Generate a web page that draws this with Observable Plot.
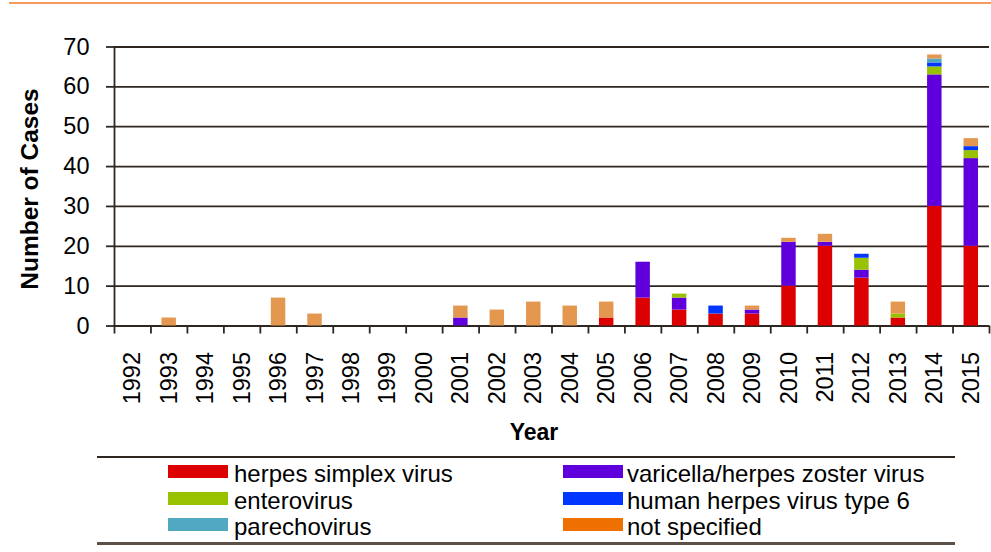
<!DOCTYPE html>
<html>
<head>
<meta charset="utf-8">
<script src="https://cdn.jsdelivr.net/npm/d3@7"></script>
<script src="https://cdn.jsdelivr.net/npm/@observablehq/plot@0.6"></script>
<style>
  html, body { margin: 0; padding: 0; background: #fff; }
  body { width: 991px; height: 552px; position: relative; overflow: hidden;
         font-family: "Liberation Sans", Arial, Helvetica, sans-serif; color: #000; }
  #topline { position: absolute; left: 9px; right: 0; top: 2px; height: 2px; background: #F49A5E; }
  #chart { position: absolute; left: 0; top: 0; }
  #ylabel { position: absolute; left: 30px; top: 189px; font-weight: bold; font-size: 24.5px;
            transform: translate(-50%, -50%) rotate(-90deg); white-space: nowrap; }
  #xlabel { position: absolute; left: 534px; top: 432px; font-weight: bold; font-size: 23px;
            transform: translate(-50%, -50%); white-space: nowrap; }
  #legend { position: absolute; left: 97px; width: 858px; top: 456px; height: 84px;
            border-top: 2px solid #2e2620; border-bottom: 3px solid #5b5149; }
  .sw { position: absolute; width: 60px; height: 13px; }
  .lt { position: absolute; font-size: 24px; line-height: 24px; white-space: nowrap; }
</style>
</head>
<body>
<div id="topline"></div>
<div id="chart"></div>
<div id="ylabel">Number of Cases</div>
<div id="xlabel">Year</div>
<div id="legend"></div>
<script>
// ---- data ----
const years = [1992,1993,1994,1995,1996,1997,1998,1999,2000,2001,2002,2003,2004,2005,2006,2007,2008,2009,2010,2011,2012,2013,2014,2015];
const series = ["herpes simplex virus","varicella/herpes zoster virus","enterovirus","human herpes virus type 6","parechovirus","not specified"];
const hsv      = [0,0,0,0,0,0,0,0,0,0,0,0,0,2,7,4,3,3,10,20,12,2,30,20];
const vzv      = [0,0,0,0,0,0,0,0,0,2,0,0,0,0,9,3,0,1,11,1,2,0,33,22];
const entero   = [0,0,0,0,0,0,0,0,0,0,0,0,0,0,0,1,0,0,0,0,3,1,2,2];
const hhv6     = [0,0,0,0,0,0,0,0,0,0,0,0,0,0,0,0,2,0,0,0,1,0,1,1];
const parecho  = [0,0,0,0,0,0,0,0,0,0,0,0,0,0,0,0,0,0,0,0,0,0,1,0];
const notSpec  = [0,2,0,0,7,3,0,0,0,3,4,6,5,4,0,0,0,1,1,2,0,3,1,2];
const yTicks = [0,10,20,30,40,50,60,70];
const barColors    = ["#DD0000","#5F00DC","#98C200","#0036FF","#50A9C0","#E4974F"];
const legendColors = ["#DD0000","#5F00DC","#98C200","#0036FF","#50A9C0","#EE7000"];

// ---- build table ----
const values = [hsv, vzv, entero, hhv6, parecho, notSpec];
const table = [];
series.forEach((s, i) => years.forEach((yr, j) => {
  if (values[i][j] > 0) table.push({year: yr, virus: s, value: values[i][j]});
}));
const boundaries = years.map(y => y - 0.5).concat([years[years.length - 1] + 0.5]);

const ink = "#2e2620";
const chart = Plot.plot({
  width: 991,
  height: 410,
  marginLeft: 114,
  marginRight: 2,
  marginTop: 46.5,
  marginBottom: 84.5,
  style: {fontFamily: "'Liberation Sans', Arial, Helvetica, sans-serif", fontSize: "23.5px", color: "#000", background: "transparent", overflow: "visible"},
  x: {type: "linear", domain: [boundaries[0], boundaries[boundaries.length - 1]]},
  y: {domain: [0, 70]},
  color: {domain: series, range: barColors},
  marks: [
    Plot.ruleY(yTicks, {stroke: ink, strokeWidth: 1.8}),
    Plot.ruleX([boundaries[0]], {y1: 0, y2: 70, stroke: ink, strokeWidth: 1.8}),
    Plot.rectY(table, Plot.stackY({
      x: "year",
      x1: d => d.year - 0.5,
      x2: d => d.year + 0.5,
      y: "value",
      fill: "virus",
      insetLeft: 11,
      insetRight: 11
    })),
    Plot.axisY(yTicks, {tickSize: 8, tickPadding: 17, stroke: ink, strokeWidth: 1.8, fill: "#000", fontSize: 23.5, label: null}),
    Plot.axisX(boundaries, {tickSize: 8, tickFormat: () => "", stroke: ink, strokeWidth: 1.8, label: null}),
    Plot.axisX(years, {tickSize: 0, tickPadding: 26, tickRotate: -90, tickFormat: d => String(d), fill: "#000", fontSize: 23.5, label: null})
  ]
});
document.getElementById("chart").appendChild(chart);

// ---- legend ----
const legend = document.getElementById("legend");
const colX = [[168 - 97, 234 - 97], [563 - 97, 627 - 97]];
const rowTop = [7, 34, 60];
series.forEach((s, i) => {
  const col = i % 2, row = Math.floor(i / 2);
  const sw = document.createElement("div");
  sw.className = "sw";
  sw.style.left = colX[col][0] + "px";
  sw.style.top = rowTop[row] + "px";
  sw.style.background = legendColors[i];
  legend.appendChild(sw);
  const t = document.createElement("div");
  t.className = "lt";
  t.style.left = colX[col][1] + "px";
  t.style.top = (rowTop[row] - 3) + "px";
  t.textContent = s;
  legend.appendChild(t);
});
</script>
</body>
</html>
